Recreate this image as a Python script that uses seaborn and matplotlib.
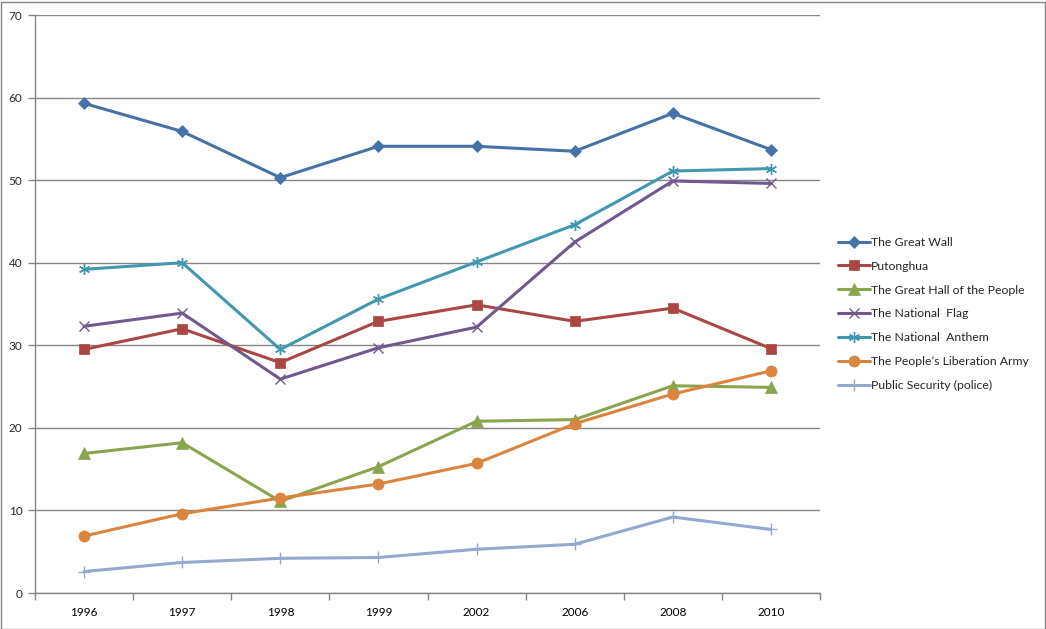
import matplotlib
matplotlib.use("Agg")
import matplotlib.pyplot as plt
from matplotlib.patches import Rectangle
from matplotlib.ticker import FixedLocator
import seaborn as sns
import pandas as pd

years = ["1996", "1997", "1998", "1999", "2002", "2006", "2008", "2010"]
great_wall = [59.3, 55.9, 50.3, 54.1, 54.1, 53.5, 58.1, 53.7]
putonghua = [29.5, 32.0, 27.9, 32.9, 34.9, 32.9, 34.5, 29.6]
great_hall = [16.9, 18.2, 11.1, 15.3, 20.8, 21.0, 25.1, 24.9]
national_flag = [32.3, 33.9, 25.9, 29.7, 32.2, 42.5, 49.9, 49.6]
national_anthem = [39.2, 40.0, 29.5, 35.6, 40.1, 44.6, 51.1, 51.4]
pla = [6.9, 9.6, 11.5, 13.2, 15.7, 20.5, 24.1, 26.9]
public_security = [2.6, 3.7, 4.2, 4.3, 5.3, 5.9, 9.2, 7.7]

series_names = ["The Great Wall", "Putonghua", "The Great Hall of the People",
                "The National  Flag", "The National  Anthem",
                "The People\u2019s Liberation Army", "Public Security (police)"]
series_values = [great_wall, putonghua, great_hall, national_flag,
                 national_anthem, pla, public_security]
colors = ["#4572A7", "#AA4643", "#89A54E", "#71588F", "#4198AF", "#DB843D", "#93A9CF"]
markers = ["D", "s", "^", "x", (6, 2, 0), "o", "+"]
msizes = [6, 7.5, 8, 7, 8, 8, 8]

rows = []
for name, vals in zip(series_names, series_values):
    for i, v in enumerate(vals):
        rows.append({"idx": i, "value": v, "series": name})
df = pd.DataFrame(rows)

sns.set_theme(style="white")
plt.rcParams["font.family"] = ["Lato", "DejaVu Sans"]

fig = plt.figure(figsize=(10.46, 6.29), dpi=100)
ax = fig.add_axes([35 / 1046, 36 / 629, 785 / 1046, 578 / 629])

for name, col, mk, ms in zip(series_names, colors, markers, msizes):
    sub = df[df["series"] == name]
    sns.lineplot(data=sub, x="idx", y="value", ax=ax, color=col, marker=mk,
                 markersize=ms, linewidth=2.2, label=name,
                 markeredgecolor=col,
                 markeredgewidth=1.0 if mk in ("x", "+", (6, 2, 0)) else 0.5)

ax.set_xlim(-0.5, len(years) - 0.5)
ax.set_ylim(0, 70)
ax.set_yticks(range(0, 71, 10))
ax.yaxis.grid(True, color="#868686", linewidth=1)
ax.xaxis.grid(False)
ax.set_axisbelow(True)
ax.set_xticks(range(len(years)))
ax.set_xticklabels(years)
ax.xaxis.set_minor_locator(FixedLocator([i - 0.5 for i in range(len(years) + 1)]))
ax.tick_params(axis="x", which="major", length=0, pad=10, labelsize=8.5, colors="black")
ax.tick_params(axis="x", which="minor", length=5, width=1, color="#868686", bottom=True)
ax.tick_params(axis="y", which="major", length=5, width=1, color="#868686", left=True,
               labelsize=8.5, pad=4)
ax.set_xlabel("")
ax.set_ylabel("")
for s in ["top", "right"]:
    ax.spines[s].set_visible(False)
for s in ["left", "bottom"]:
    ax.spines[s].set_color("#868686")
    ax.spines[s].set_linewidth(1)

leg = ax.legend(loc="upper left", bbox_to_anchor=(833 / 1046, 1 - 232 / 629),
                bbox_transform=fig.transFigure, frameon=False, fontsize=8.8,
                handlelength=2.6, handletextpad=0.1, labelspacing=1.05,
                borderaxespad=0)

fig.patches.append(Rectangle((0.5 / 1046, 0.5 / 629), 1044 / 1046, 627 / 629,
                             transform=fig.transFigure, fill=False,
                             edgecolor="#868686", linewidth=1))

fig.savefig("out.png", dpi=100)
